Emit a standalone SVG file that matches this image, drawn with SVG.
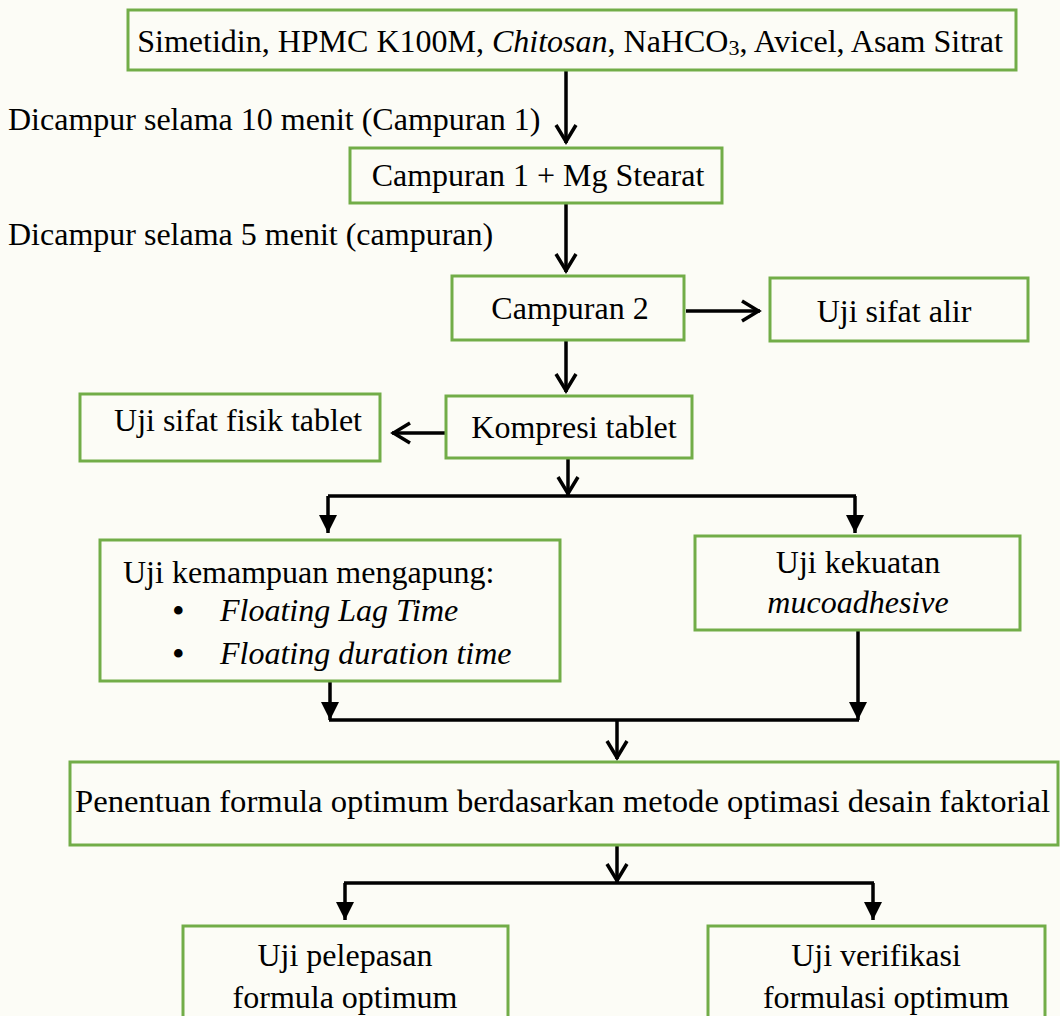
<svg xmlns="http://www.w3.org/2000/svg" width="1060" height="1016" viewBox="0 0 1060 1016">
<style>
.box{fill:none;stroke:#72ad48;stroke-width:3}
.t{font-family:"Liberation Serif","Times New Roman",serif;font-size:32px;fill:#000}
.m{text-anchor:middle}
.i{font-style:italic}
.b{font-size:36px}
.c{fill:none;stroke:#000;stroke-width:3.5}
</style>
<defs>
<marker id="chev" markerUnits="userSpaceOnUse" markerWidth="40" markerHeight="40" viewBox="-20 -20 40 40" refX="0" refY="0" orient="auto" overflow="visible">
<path d="M-18,-10 L-1.5,0 L-18,10" fill="none" stroke="#000" stroke-width="3.5"/>
</marker>
<marker id="tri" markerUnits="userSpaceOnUse" markerWidth="40" markerHeight="40" viewBox="-20 -20 40 40" refX="0" refY="0" orient="auto" overflow="visible">
<path d="M-18,-9 L0,0 L-18,9 Z" fill="#000"/>
</marker>
</defs>
<rect width="1060" height="1016" fill="#fcfcf6"/>

<g id="connectors">
<path class="c" d="M566,70 V143" marker-end="url(#chev)"/>
<path class="c" d="M566,203 V272" marker-end="url(#chev)"/>
<path class="c" d="M686,311 H760" marker-end="url(#chev)"/>
<path class="c" d="M566,340 V392" marker-end="url(#chev)"/>
<path class="c" d="M446,433 H392" marker-end="url(#chev)"/>
<path class="c" d="M568,458 V495" marker-end="url(#chev)"/>
<path class="c" d="M328,496 H856"/>
<path class="c" d="M328,496 V533" marker-end="url(#tri)"/>
<path class="c" d="M855,496 V533" marker-end="url(#tri)"/>
<path class="c" d="M330,681 V720" marker-end="url(#tri)"/>
<path class="c" d="M858,630 V720" marker-end="url(#tri)"/>
<path class="c" d="M329,720 H859"/>
<path class="c" d="M617,720 V759" marker-end="url(#chev)"/>
<path class="c" d="M617,845 V882" marker-end="url(#chev)"/>
<path class="c" d="M344,883 H874"/>
<path class="c" d="M345,883 V920" marker-end="url(#tri)"/>
<path class="c" d="M873,883 V920" marker-end="url(#tri)"/>
</g>

<g id="n1">
<rect class="box" x="128" y="10" width="888" height="60"/>
<text class="t m" x="570" y="52">Simetidin, HPMC K100M, <tspan class="i">Chitosan</tspan>, NaHCO<tspan font-size="22" dy="3">3</tspan><tspan dy="-3">, Avicel, Asam Sitrat</tspan></text>
</g>
<g id="label1">
<text class="t" x="8" y="130">Dicampur selama 10 menit (Campuran 1)</text>
</g>
<g id="n2">
<rect class="box" x="350" y="148" width="372" height="55"/>
<text class="t m" x="538" y="186">Campuran 1 + Mg Stearat</text>
</g>
<g id="label2">
<text class="t" x="8" y="245">Dicampur selama 5 menit (campuran)</text>
</g>
<g id="n3">
<rect class="box" x="452" y="276" width="232" height="64"/>
<text class="t m" x="570" y="319">Campuran 2</text>
</g>
<g id="n4">
<rect class="box" x="770" y="278" width="258" height="63"/>
<text class="t m" x="894" y="322">Uji sifat alir</text>
</g>
<g id="n5">
<rect class="box" x="446" y="396" width="246" height="62"/>
<text class="t m" x="574" y="438">Kompresi tablet</text>
</g>
<g id="n6">
<rect class="box" x="80" y="394" width="300" height="67"/>
<text class="t m" x="238" y="431">Uji sifat fisik tablet</text>
</g>
<g id="n7">
<rect class="box" x="100" y="540" width="460" height="141"/>
<text class="t" x="123" y="583">Uji kemampuan mengapung:</text>
<text class="t b" x="172" y="623">•</text>
<text class="t i" x="220" y="621">Floating Lag Time</text>
<text class="t b" x="172" y="666">•</text>
<text class="t i" x="220" y="664">Floating duration time</text>
</g>
<g id="n8">
<rect class="box" x="695" y="536" width="325" height="94"/>
<text class="t m" x="858" y="573">Uji kekuatan</text>
<text class="t m i" x="858" y="613">mucoadhesive</text>
</g>
<g id="n9">
<rect class="box" x="70" y="762" width="988" height="83"/>
<text class="t" x="75" y="812" textLength="975" lengthAdjust="spacingAndGlyphs">Penentuan formula optimum berdasarkan metode optimasi desain faktorial</text>
</g>
<g id="n10">
<rect class="box" x="183" y="926" width="325" height="100"/>
<text class="t m" x="345" y="966">Uji pelepasan</text>
<text class="t m" x="345" y="1008">formula optimum</text>
</g>
<g id="n11">
<rect class="box" x="708" y="926" width="337" height="100"/>
<text class="t m" x="876" y="966">Uji verifikasi</text>
<text class="t m" x="886" y="1008">formulasi optimum</text>
</g>
</svg>
